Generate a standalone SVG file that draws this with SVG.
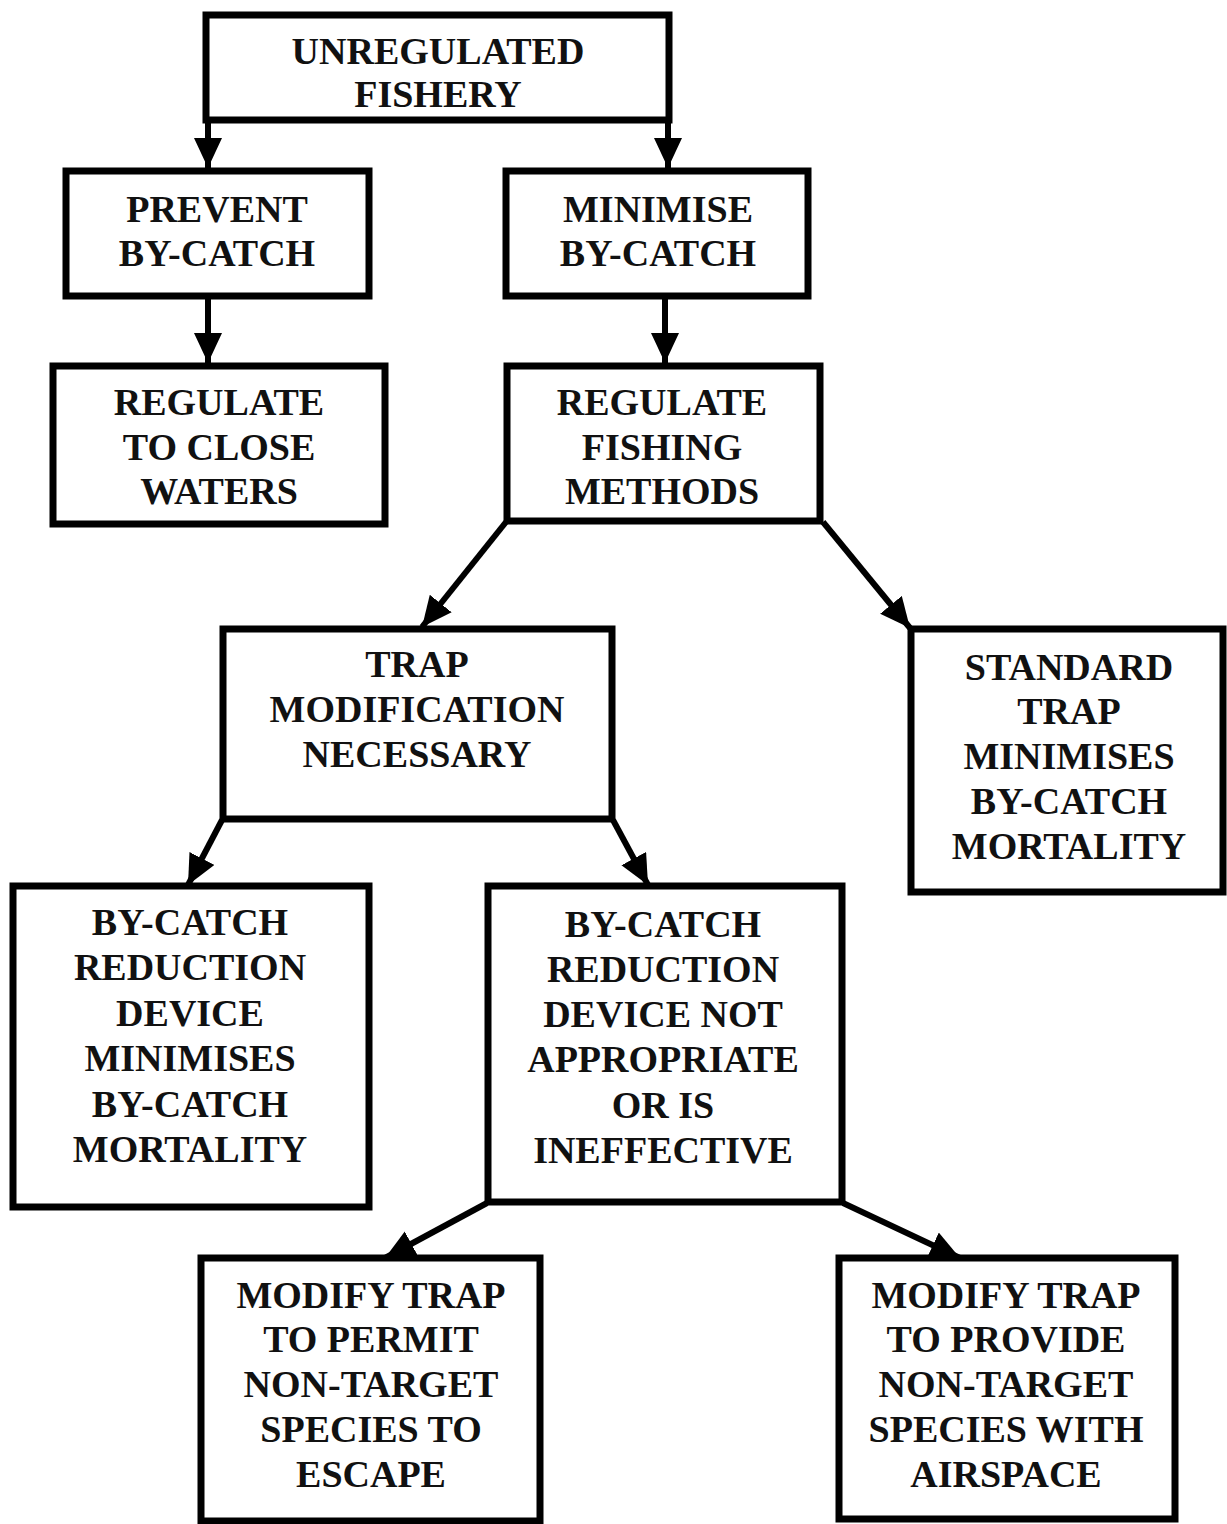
<svg xmlns="http://www.w3.org/2000/svg" width="1227" height="1524" viewBox="0 0 1227 1524">
<style>
.box{fill:#fff;stroke:#000;stroke-width:7}
.t{font-family:"Liberation Serif","Times New Roman",serif;font-weight:bold;font-size:38px;text-anchor:middle;fill:#111}
.c{stroke:#000;stroke-width:6;fill:none}
</style>
<defs>
<marker id="ah" markerUnits="userSpaceOnUse" markerWidth="34" markerHeight="30" refX="30" refY="14" orient="auto">
<path d="M0,0 L30,14 L0,28 Z" fill="#000"/>
</marker>
</defs>
<rect width="1227" height="1524" fill="#fff"/>
<g id="connectors">
<line class="c" x1="208" y1="120" x2="208" y2="168" marker-end="url(#ah)"/>
<line class="c" x1="668" y1="120" x2="668" y2="168" marker-end="url(#ah)"/>
<line class="c" x1="208" y1="297" x2="208" y2="363" marker-end="url(#ah)"/>
<line class="c" x1="665" y1="297" x2="665" y2="363" marker-end="url(#ah)"/>
<line class="c" x1="506" y1="522" x2="422" y2="627" marker-end="url(#ah)"/>
<line class="c" x1="823" y1="522" x2="910" y2="628" marker-end="url(#ah)"/>
<line class="c" x1="222" y1="820" x2="188" y2="885" marker-end="url(#ah)"/>
<line class="c" x1="613" y1="820" x2="648" y2="885" marker-end="url(#ah)"/>
<line class="c" x1="487" y1="1203" x2="385" y2="1258" marker-end="url(#ah)"/>
<line class="c" x1="843" y1="1203" x2="960" y2="1258" marker-end="url(#ah)"/>
</g>
<g id="n1"><rect class="box" x="206" y="15" width="463" height="105"/>
<text class="t" x="438" y="64">UNREGULATED</text><text class="t" x="438" y="107">FISHERY</text></g>
<g id="n2"><rect class="box" x="66" y="171" width="303" height="125"/>
<text class="t" x="217" y="222">PREVENT</text><text class="t" x="217" y="266">BY-CATCH</text></g>
<g id="n3"><rect class="box" x="506" y="171" width="302" height="125"/>
<text class="t" x="658" y="222">MINIMISE</text><text class="t" x="658" y="266">BY-CATCH</text></g>
<g id="n4"><rect class="box" x="53" y="366" width="332" height="158"/>
<text class="t" x="219" y="415">REGULATE</text><text class="t" x="219" y="460">TO CLOSE</text><text class="t" x="219" y="504">WATERS</text></g>
<g id="n5"><rect class="box" x="507" y="366" width="313" height="155"/>
<text class="t" x="662" y="415">REGULATE</text><text class="t" x="662" y="460">FISHING</text><text class="t" x="662" y="504">METHODS</text></g>
<g id="n6"><rect class="box" x="223" y="629" width="389" height="190"/>
<text class="t" x="417" y="677">TRAP</text><text class="t" x="417" y="722">MODIFICATION</text><text class="t" x="417" y="767">NECESSARY</text></g>
<g id="n7"><rect class="box" x="911" y="629" width="312" height="263"/>
<text class="t" x="1069" y="680">STANDARD</text><text class="t" x="1069" y="724">TRAP</text><text class="t" x="1069" y="769">MINIMISES</text><text class="t" x="1069" y="814">BY-CATCH</text><text class="t" x="1069" y="859">MORTALITY</text></g>
<g id="n8"><rect class="box" x="13" y="886" width="356" height="321"/>
<text class="t" x="190" y="935">BY-CATCH</text><text class="t" x="190" y="980">REDUCTION</text><text class="t" x="190" y="1026">DEVICE</text><text class="t" x="190" y="1071">MINIMISES</text><text class="t" x="190" y="1117">BY-CATCH</text><text class="t" x="190" y="1162">MORTALITY</text></g>
<g id="n9"><rect class="box" x="488" y="886" width="354" height="316"/>
<text class="t" x="663" y="937">BY-CATCH</text><text class="t" x="663" y="982">REDUCTION</text><text class="t" x="663" y="1027">DEVICE NOT</text><text class="t" x="663" y="1072">APPROPRIATE</text><text class="t" x="663" y="1118">OR IS</text><text class="t" x="663" y="1163">INEFFECTIVE</text></g>
<g id="n10"><rect class="box" x="201" y="1258" width="339" height="263"/>
<text class="t" x="371" y="1308">MODIFY TRAP</text><text class="t" x="371" y="1352">TO PERMIT</text><text class="t" x="371" y="1397">NON-TARGET</text><text class="t" x="371" y="1442">SPECIES TO</text><text class="t" x="371" y="1487">ESCAPE</text></g>
<g id="n11"><rect class="box" x="839" y="1258" width="336" height="261"/>
<text class="t" x="1006" y="1308">MODIFY TRAP</text><text class="t" x="1006" y="1352">TO PROVIDE</text><text class="t" x="1006" y="1397">NON-TARGET</text><text class="t" x="1006" y="1442">SPECIES WITH</text><text class="t" x="1006" y="1487">AIRSPACE</text></g>
</svg>
